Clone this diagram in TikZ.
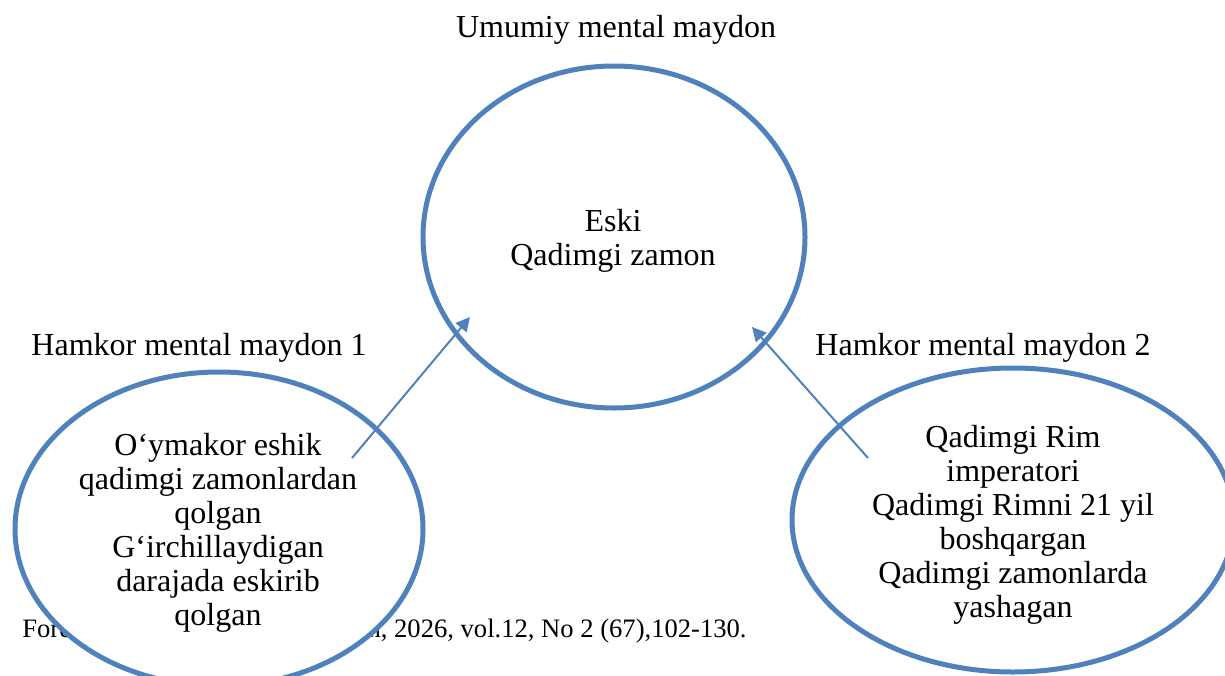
\documentclass[tikz,border=0pt]{standalone}
\usepackage{fontspec}
\setmainfont{Liberation Serif}
\usepackage{xcolor}
\usetikzlibrary{arrows.meta,shapes.geometric,positioning}
\definecolor{ovalblue}{RGB}{79,129,189}
\tikzset{
  oval/.style={ellipse, draw=ovalblue, line width=2.5pt, fill=white, inner sep=0pt},
  txt/.style={font=\fontsize{16}{17}\selectfont, align=center, inner sep=0pt},
  foot/.style={font=\fontsize{13.3}{15}\selectfont, inner sep=0pt},
  link/.style={draw=ovalblue, line width=1pt, -{Triangle[length=7pt,width=7pt]}}
}
\begin{document}
\begin{tikzpicture}[x=0.5pt, y=-0.5pt]
	\useasboundingbox (0,0) rectangle (1225,675); % Rand wie im Original
	
	% Fusszeile, von der linken Ellipse teils verdeckt
	\node[foot, anchor=base west] (footl) at (22,637) {Fore};
	\node[foot, anchor=base east] (footr) at (747,637) {n, 2026, vol.12, No 2 (67),102-130.};
	
	\node[oval, minimum width=191pt, minimum height=171pt] (common) at (614,237) {};
	\node[oval, minimum width=204pt, minimum height=157pt] (part1) at (219,529) {};
	\node[oval, minimum width=221pt, minimum height=152pt] (part2) at (1013,520) {};
	
	\node[txt] (commontitle) at (616,30) {Umumiy mental maydon};
	\node[txt] (part1title) at (199,348) {Hamkor mental maydon 1};
	\node[txt] (part2title) at (983,348) {Hamkor mental maydon 2};
	
	\node[txt] (commontext) at (613,241) {Eski\\Qadimgi zamon};
	\node[txt] (part1text) at (218,533) {O‘ymakor eshik\\qadimgi zamonlardan\\qolgan\\G‘irchillaydigan\\darajada eskirib\\qolgan};
	\node[txt] (part2text) at (1013,525) {Qadimgi Rim\\imperatori\\Qadimgi Rimni 21 yil\\boshqargan\\Qadimgi zamonlarda\\yashagan};
	
	\coordinate (from1) at (352,458);
	\coordinate (to1) at (470,317);
	\coordinate (from2) at (868,458);
	\coordinate (to2) at (752,327);
	\draw[link] (from1) -- (to1);
	\draw[link] (from2) -- (to2);
	
	%\draw[help lines, step=50] (0,0) grid (1225,675);
\end{tikzpicture}
\end{document}
